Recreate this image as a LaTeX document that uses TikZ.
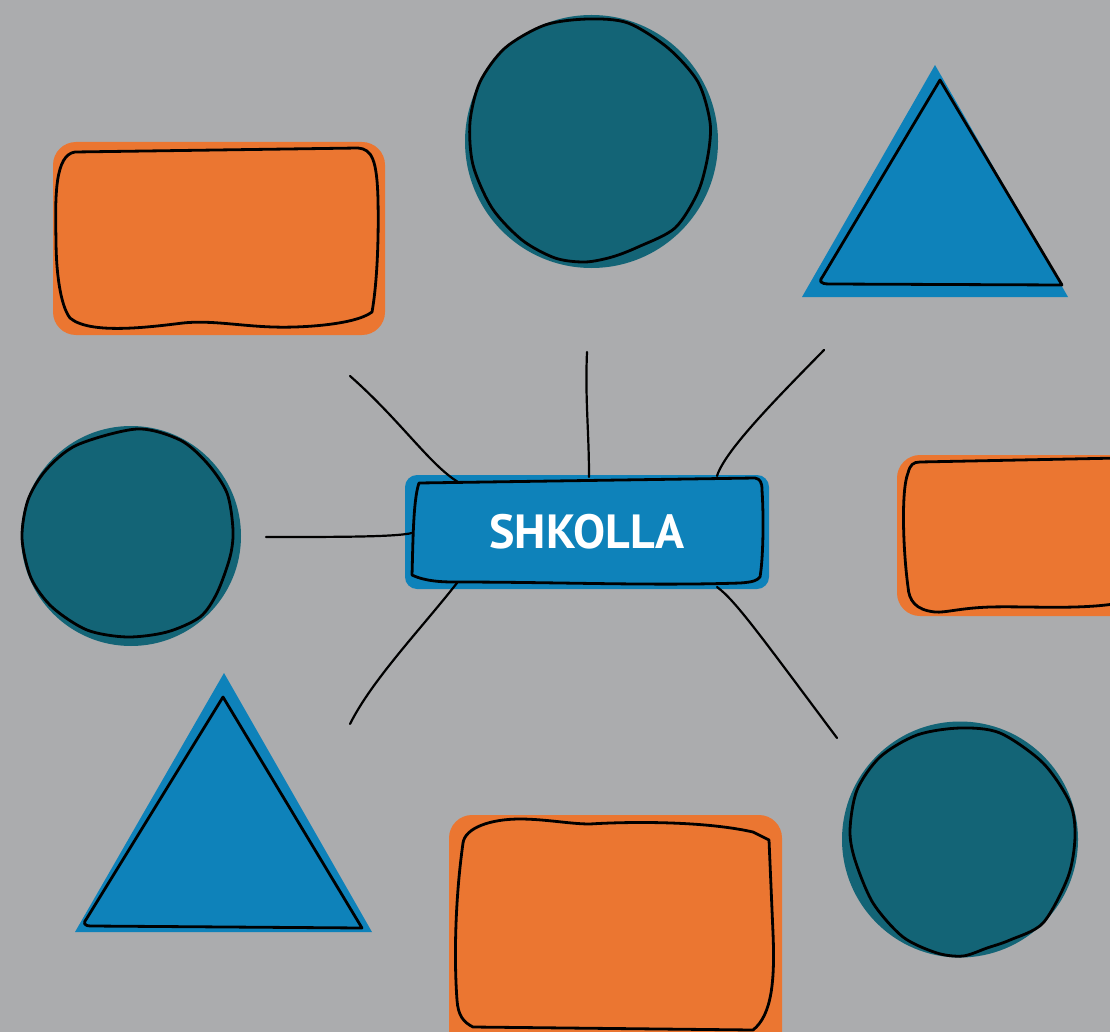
\documentclass[tikz,border=0pt]{standalone}
\usepackage{fontspec}
\setmainfont{PT Sans}
\usepackage{tikz}

\definecolor{bggray}{HTML}{ABACAE}
\definecolor{shorange}{HTML}{EB7631}
\definecolor{shteal}{HTML}{136476}
\definecolor{shblue}{HTML}{0E82BA}

\tikzset{
    sketch/.style={draw=black,line width=2.8pt,line join=round},
    spoke/.style={draw=black,line width=2.2pt,line cap=round}
}

\begin{document}
\begin{tikzpicture}[x=1pt,y=-1pt]
\fill[bggray] (0,0) rectangle (1110,1032);
\useasboundingbox (0,0) rectangle (1110,1032);

% background blobs
\begin{scope}[every node/.style={inner sep=0pt,outer sep=0pt}]
    \node[fill=shorange,rounded corners=23pt,minimum width=332pt,minimum height=193pt] (boxTL) at (219,238.5) {};
    \node[fill=shorange,rounded corners=23pt,minimum width=260pt,minimum height=161pt] (boxR) at (1027,535.5) {};
    \node[fill=shorange,rounded corners=23pt,minimum width=333pt,minimum height=250pt] (boxB) at (615.5,940) {};
    \node[fill=shteal,circle,minimum size=253pt] (circT) at (591.5,141.5) {};
    \node[fill=shteal,circle,minimum size=220pt] (circL) at (131,536) {};
    \node[fill=shteal,circle,minimum size=236pt] (circR) at (960,839.5) {};
    \node[fill=shblue,rounded corners=12pt,minimum width=364pt,minimum height=114pt,
          text=white,font=\fontsize{48}{58}\selectfont\bfseries] (shkolla) at (587,532) {SHKOLLA};
\end{scope}
\fill[shblue] (935,65) -- (802,297) -- (1068,297) -- cycle;
\fill[shblue] (224,673) -- (75,932) -- (372,932) -- cycle;

% hand drawn outlines
\begin{scope}[sketch]
    \draw (75,152) -- (358,148) .. controls (372,149) and (377,160) .. (378,200)
        .. controls (379,250) and (376,290) .. (372,312) .. controls (355,325) and (300,328) .. (273,327)
        .. controls (240,326) and (210,320) .. (183,323) .. controls (150,327) and (90,335) .. (70,318)
        .. controls (60,305) and (56,270) .. (56,240) .. controls (55,195) and (55,155) .. (75,152) -- cycle;
    \draw (463,843) .. controls (465,828) and (490,819) .. (520,819) .. controls (545,819) and (570,824) .. (590,824)
        .. controls (620,822) and (700,820) .. (753,832) -- (769,840) -- (773,933)
        .. controls (775,980) and (772,1015) .. (753,1030) -- (473,1027)
        .. controls (463,1022) and (458,1015) .. (457,1000) .. controls (454,960) and (455,900) .. (463,843) -- cycle;
    \draw (1120,603) .. controls (1080,610) and (1030,606) .. (990,607) .. controls (960,608) and (945,613) .. (935,612)
        .. controls (915,610) and (909,600) .. (908,587) .. controls (903,550) and (901,490) .. (908,473)
        .. controls (910,465) and (913,462) .. (920,462) -- (1120,458);
    \draw (419,483) -- (755,478) .. controls (760,479) and (762,482) .. (762,490)
        .. controls (764,520) and (763,560) .. (760,577) .. controls (757,580) and (755,582) .. (740,583)
        .. controls (650,586) and (560,582) .. (453,582) .. controls (430,582) and (418,578) .. (412,575)
        .. controls (413,545) and (413,500) .. (419,483) -- cycle;
    \draw plot[smooth cycle] coordinates {(588,19) (628,23) (668,48) (698,82) (710,122) (708,155) (698,192) (675,228)
        (638,247) (612,257) (585,262) (555,258) (522,240) (492,208) (473,165) (470,122) (480,82) (505,48) (545,25)};
    \draw plot[smooth cycle] coordinates {(137,429) (180,440) (207,463) (227,493) (233,530) (230,557) (217,593)
        (200,617) (167,632) (127,637) (87,630) (52,607) (31,578) (22,538) (28,500) (46,470) (77,445)};
    \draw plot[smooth cycle] coordinates {(960,728) (1000,733) (1043,763) (1070,803) (1075,837) (1068,877) (1043,923)
        (1010,940) (987,948) (963,956) (937,953) (903,937) (873,903) (855,860) (850,830) (857,790) (880,757) (917,735)};
    \draw (940,80) -- (1062,285) -- (830,284) .. controls (819,284) and (819,281) .. (823,276) -- cycle;
    \draw (223,697) -- (362,928) -- (92,926) .. controls (83,926) and (83,923) .. (87,918) -- cycle;
\end{scope}

% spokes
\coordinate (endTL) at (350,376);
\coordinate (endT)  at (587,352);
\coordinate (endTR) at (824,350);
\coordinate (endL)  at (266,537);
\coordinate (endBL) at (350,724);
\coordinate (endBR) at (837,738);
\begin{scope}[spoke]
    \draw (endTL) .. controls (400,420) and (430,465) .. ([shift={(53,7)}]shkolla.north west);
    \draw (endT) .. controls (585,400) and (589,430) .. ([shift={(2,2)}]shkolla.north);
    \draw (endTR) .. controls (780,395) and (725,450) .. ([shift={(-52,1)}]shkolla.north east);
    \draw (endL) .. controls (340,537) and (395,537) .. ([shift={(7,1)}]shkolla.west);
    \draw (endBL) .. controls (372,680) and (420,630) .. ([shift={(52,-6)}]shkolla.south west);
    \draw (endBR) .. controls (760,635) and (735,600) .. ([shift={(-52,-2)}]shkolla.south east);
\end{scope}
\end{tikzpicture}
\end{document}
